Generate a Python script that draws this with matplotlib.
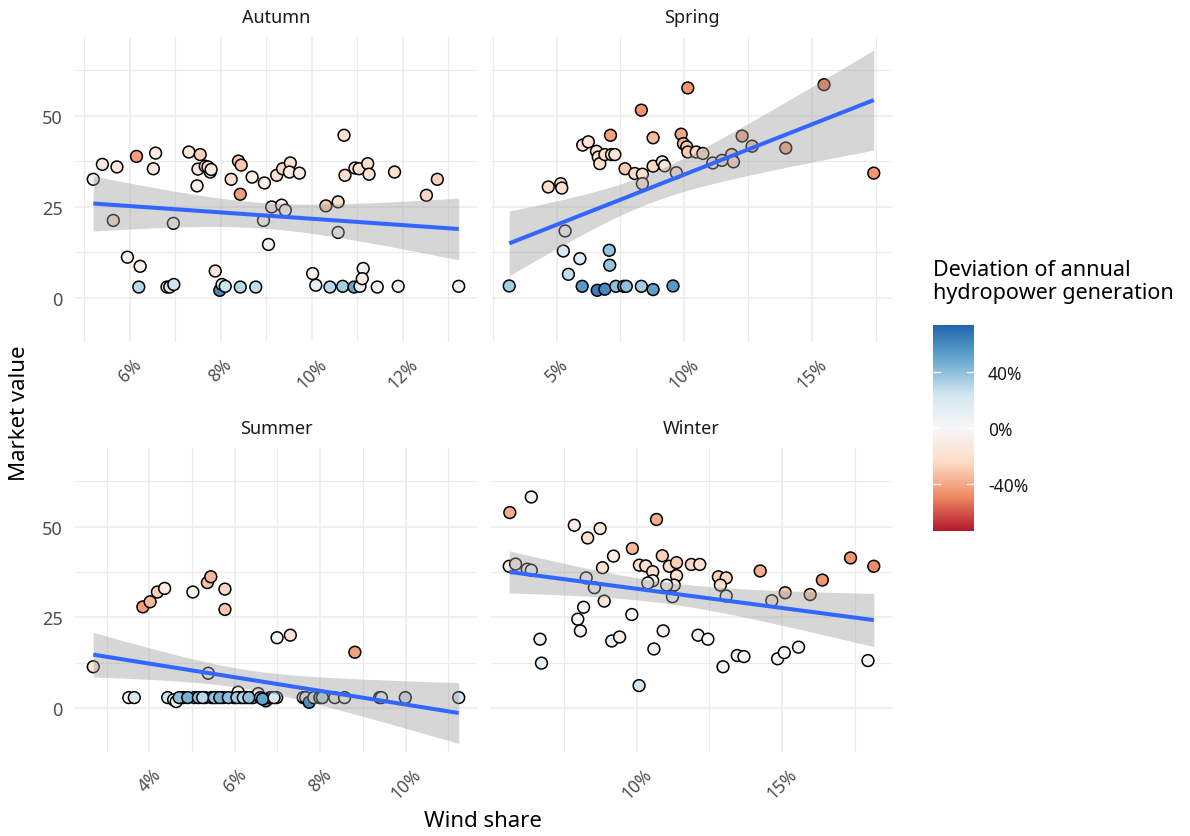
import numpy as np
import matplotlib
matplotlib.use("Agg")
import matplotlib.pyplot as plt
from matplotlib.colors import LinearSegmentedColormap, Normalize
from matplotlib.cm import ScalarMappable
from matplotlib.ticker import FixedLocator, FuncFormatter

plt.rcParams['font.family'] = ['Noto Sans', 'DejaVu Sans']

# ---------------------------------------------------------------- data
# wind share (%), market value, deviation of annual hydropower generation
autumn_wind = [5.20, 5.40, 5.72, 5.64, 6.15, 6.57, 6.52, 5.95, 6.23, 6.20, 6.82, 6.88,
               6.97, 6.96, 7.30, 7.55, 7.50, 7.48, 7.66, 7.77, 7.72, 7.79, 7.88, 7.98,
               8.03, 8.10, 8.39, 8.45, 8.23, 8.43, 8.69, 8.43, 8.77, 8.96, 8.94, 9.05,
               9.12, 9.23, 9.34, 9.42, 9.36, 9.53, 9.51, 9.73, 10.02, 10.09, 10.40, 10.31,
               10.58, 10.58, 10.71, 10.73, 10.68, 10.93, 11.06, 10.95, 11.04, 11.23, 11.26,
               11.13, 11.11, 11.44, 11.82, 11.90, 12.52, 12.76, 13.23]
autumn_value = [32.6, 36.7, 36.0, 21.3, 38.9, 39.8, 35.5, 11.2, 8.7, 3.0, 3.0, 3.0,
                3.7, 20.5, 40.1, 39.4, 35.4, 30.8, 36.2, 34.6, 36.0, 35.3, 7.4, 2.1,
                3.7, 3.2, 37.6, 36.5, 32.6, 28.5, 33.2, 3.0, 3.0, 31.6, 21.3, 14.7,
                25.0, 33.7, 25.5, 24.1, 35.5, 37.1, 34.6, 34.3, 6.7, 3.5, 3.0, 25.3,
                26.4, 18.0, 44.7, 33.7, 3.2, 3.0, 3.2, 35.7, 35.5, 36.9, 34.0,
                8.1, 5.3, 3.0, 34.6, 3.2, 28.2, 32.6, 3.2]
autumn_hydro = [0.05, -0.12, -0.15, -0.20, -0.42, -0.10, -0.12, -0.03, -0.05, 0.30, 0.20, 0.25,
                0.25, 0.00, -0.15, -0.28, -0.15, -0.08, -0.20, -0.15, -0.18, -0.10, -0.15, 0.60,
                0.15, 0.25, -0.30, -0.30, -0.20, -0.42, -0.08, 0.30, 0.28, -0.05, 0.00, 0.05,
                -0.15, -0.20, -0.05, 0.00, -0.25, -0.20, -0.10, -0.10, -0.05, 0.10, 0.30, -0.30,
                -0.20, 0.00, -0.18, -0.22, 0.35, 0.50, 0.10, -0.18, -0.20, -0.20, -0.18,
                0.05, -0.08, 0.02, -0.22, -0.08, -0.25, -0.28, 0.08]

spring_wind = [3.14, 4.67, 5.16, 5.20, 5.33, 5.26, 5.46, 5.91, 6.00, 6.02, 6.24, 6.56,
               6.63, 6.69, 6.89, 7.15, 7.28, 7.11, 7.06, 7.08, 6.59, 6.89, 7.32, 7.63,
               7.73, 7.68, 8.06, 8.36, 8.36, 8.32, 8.78, 8.78, 9.14, 9.23, 8.32, 8.78,
               9.56, 9.69, 10.14, 9.88, 9.97, 10.10, 10.14, 10.47, 10.73, 11.12, 11.48,
               11.86, 11.93, 12.27, 12.66, 13.98, 15.48, 17.43]
spring_value = [3.3, 30.5, 31.4, 30.2, 18.4, 12.9, 6.5, 10.8, 3.2, 42.0, 42.9, 40.3,
                38.7, 36.9, 39.4, 39.4, 39.4, 44.7, 13.1, 9.0, 2.1, 2.4, 3.2, 3.2,
                3.2, 35.5, 34.2, 34.0, 31.4, 51.6, 44.0, 36.2, 37.4, 36.3, 3.2, 2.3,
                3.3, 34.4, 57.7, 45.0, 42.4, 41.5, 40.1, 40.1, 39.7, 37.1, 37.8,
                39.4, 37.4, 44.5, 41.7, 41.2, 58.6, 34.3]
spring_hydro = [0.35, -0.22, -0.22, -0.20, 0.00, 0.20, 0.28, 0.18, 0.55, -0.20, -0.15, -0.18,
                -0.20, -0.22, -0.20, -0.18, -0.15, -0.42, 0.38, 0.38, 0.65, 0.60, 0.40, 0.42,
                0.40, -0.30, -0.22, -0.20, -0.15, -0.45, -0.35, -0.25, -0.12, -0.15, 0.35, 0.52,
                0.55, -0.15, -0.45, -0.40, -0.35, -0.30, -0.30, -0.25, -0.25, -0.15, -0.20,
                -0.25, -0.25, -0.38, -0.30, -0.40, -0.50, -0.45]

summer_wind = [2.69, 3.52, 3.65, 3.85, 4.02, 4.19, 4.36, 5.02, 5.36, 5.44, 5.77, 5.77,
               5.38, 6.99, 7.30, 8.81, 4.43, 4.57, 4.63, 4.79, 5.05, 5.31, 5.46, 5.58,
               5.73, 5.98, 6.08, 6.14, 6.26, 6.39, 6.43, 6.55, 6.73, 6.82, 6.86, 6.98,
               7.60, 7.66, 7.74, 7.85, 7.99, 8.05, 8.34, 8.57, 9.39, 9.43, 9.99, 11.24,
               4.70, 4.90, 5.15, 5.25, 5.52, 5.65, 5.85, 6.05, 6.20,
               6.33, 6.60, 6.65, 6.92]
summer_value = [11.4, 2.9, 2.9, 27.9, 29.3, 32.0, 33.0, 32.0, 34.6, 36.2, 32.8, 27.2,
                9.6, 19.4, 20.1, 15.4, 2.9, 2.3, 1.8, 2.9, 2.9, 2.9, 2.9, 2.9,
                2.9, 2.9, 4.4, 2.9, 2.9, 2.9, 2.9, 4.0, 2.0, 2.9, 2.9, 2.9,
                2.9, 2.9, 1.6, 2.9, 2.9, 2.9, 2.9, 2.9, 2.9, 2.9, 2.9, 2.9,
                2.9, 2.9, 2.9, 2.9, 2.9, 2.9, 2.9, 2.9, 2.9,
                2.9, 2.9, 2.5, 2.9]
summer_hydro = [-0.15, 0.00, 0.20, -0.42, -0.35, -0.28, -0.10, -0.06, -0.32, -0.35, -0.25, -0.30,
                0.00, 0.03, -0.18, -0.42, 0.25, 0.00, 0.10, 0.45, 0.45, 0.10, 0.45, 0.40,
                0.45, 0.45, 0.00, 0.35, 0.20, 0.40, 0.35, 0.00, 0.60, 0.45, 0.35, 0.00,
                0.10, 0.20, 0.60, 0.25, 0.35, 0.30, -0.12, 0.00, 0.05, 0.10, 0.25, 0.20,
                0.40, 0.45, 0.40, 0.30, 0.40, 0.45, 0.40, 0.35, 0.30,
                0.40, 0.45, 0.50, 0.20]

winter_wind = [5.63, 6.37, 5.61, 5.83, 6.23, 6.37, 6.67, 6.72, 7.85, 8.31, 8.74, 8.26,
               8.54, 8.82, 9.20, 8.17, 7.97, 8.06, 8.88, 9.14, 9.41, 9.83, 9.85, 10.08,
               10.09, 10.31, 10.68, 10.55, 10.55, 10.38, 10.88, 11.12, 11.37, 11.37, 11.29,
               11.23, 11.03, 10.91, 10.59, 11.88, 12.17, 12.11, 12.45, 12.81, 13.08, 12.88,
               13.08, 12.97, 13.46, 13.69, 14.25, 14.65, 14.85, 15.08, 15.57, 15.11, 15.97,
               16.39, 17.36, 18.16, 17.96]
winter_value = [53.9, 58.2, 39.1, 39.7, 38.3, 38.0, 19.0, 12.4, 50.4, 46.9, 49.5, 35.9,
                33.2, 38.7, 41.9, 27.8, 24.5, 21.3, 29.5, 18.5, 19.6, 25.8, 44.0, 6.2,
                39.4, 39.2, 52.0, 37.6, 35.1, 34.5, 42.0, 39.1, 40.1, 36.5, 33.9,
                30.7, 33.9, 21.3, 16.3, 39.6, 39.6, 20.1, 19.0, 36.2, 35.9, 33.9,
                30.9, 11.4, 14.5, 14.2, 37.8, 29.6, 13.6, 15.3, 16.8, 31.8, 31.3,
                35.3, 41.4, 39.1, 13.1]
winter_hydro = [-0.38, -0.08, -0.12, -0.05, 0.00, 0.00, 0.10, 0.10, -0.10, -0.20, -0.15, 0.00,
                0.00, -0.18, -0.08, 0.02, -0.02, -0.05, -0.15, 0.10, -0.08, 0.00, -0.35, 0.22,
                -0.22, -0.20, -0.38, -0.20, -0.05, 0.00, -0.28, -0.22, -0.28, -0.20, -0.05,
                0.00, 0.00, -0.05, -0.06, -0.25, -0.20, 0.08, 0.00, -0.28, -0.25, -0.20,
                0.00, 0.06, 0.10, 0.00, -0.38, -0.15, 0.00, 0.00, -0.05, -0.30, -0.30,
                -0.45, -0.45, -0.48, -0.05]

panels = [
    ("Autumn", autumn_wind, autumn_value, autumn_hydro, [6, 8, 10, 12], [5, 7, 9, 11, 13]),
    ("Spring", spring_wind, spring_value, spring_hydro, [5, 10, 15], [2.5, 7.5, 12.5, 17.5]),
    ("Summer", summer_wind, summer_value, summer_hydro, [4, 6, 8, 10], [3, 5, 7, 9, 11]),
    ("Winter", winter_wind, winter_value, winter_hydro, [10, 15], [7.5, 12.5, 17.5]),
]
value_ticks = [0, 25, 50]
value_minor = [12.5, 37.5, 62.5]
legend_ticks = [-0.4, 0.0, 0.4]
hydro_limit = 0.735

# ---------------------------------------------------------------- styling
W, H = 1190, 837
fig = plt.figure(figsize=(W / 100, H / 100), dpi=100)
fig.patch.set_facecolor("white")

rdbu7 = ["#B2182B", "#EF8A62", "#FDDBC7", "#F7F7F7", "#D1E5F0", "#67A9CF", "#2166AC"]
cmap = LinearSegmentedColormap.from_list("rdbu7", rdbu7, N=256)
norm = Normalize(-hydro_limit, hydro_limit)
grid_col = "#EBEBEB"
tick_col = "#4D4D4D"


def rect(x0, y0, x1, y1):
    return [x0 / W, 1 - y1 / H, (x1 - x0) / W, (y1 - y0) / H]


boxes = [(75, 38, 477, 343), (491, 38, 892, 343),
         (75, 449, 477, 753), (491, 449, 892, 753)]


def t_quantile(dof):
    z = 1.959964
    return z + (z ** 3 + z) / (4 * dof) + (5 * z ** 5 + 16 * z ** 3 + 3 * z) / (96 * dof ** 2)


def linear_fit(x, y, n=80):
    x = np.asarray(x, float)
    y = np.asarray(y, float)
    X = np.column_stack([np.ones_like(x), x])
    beta = np.linalg.lstsq(X, y, rcond=None)[0]
    resid = y - X @ beta
    dof = len(x) - 2
    s2 = resid @ resid / dof
    cov = np.linalg.inv(X.T @ X)
    xs = np.linspace(x.min(), x.max(), n)
    Xs = np.column_stack([np.ones_like(xs), xs])
    fit = Xs @ beta
    se = np.sqrt(s2 * np.einsum("ij,jk,ik->i", Xs, cov, Xs))
    t = t_quantile(dof)
    return xs, fit, fit - t * se, fit + t * se


pct = FuncFormatter(lambda v, _: f"{v:g}%")

for i, (name, wind, value, hydro, xmaj, xmin_) in enumerate(panels):
    ax = fig.add_axes(rect(*boxes[i]))
    wind = np.asarray(wind)
    value = np.asarray(value)

    ax.scatter(wind, value, c=hydro, cmap=cmap, norm=norm, s=72,
               edgecolors="black", linewidths=1.1, zorder=3)

    xs, fit, lo, hi = linear_fit(wind, value)
    ax.fill_between(xs, lo, hi, color="#999999", alpha=0.4, linewidth=0, zorder=4)
    ax.plot(xs, fit, color="#3366FF", linewidth=2.9, zorder=5, solid_capstyle="butt")

    span = wind.max() - wind.min()
    ax.set_xlim(wind.min() - 0.05 * span, wind.max() + 0.05 * span)
    ax.set_ylim(-12.1, 71.7)

    ax.xaxis.set_major_locator(FixedLocator(xmaj))
    ax.xaxis.set_minor_locator(FixedLocator(xmin_))
    ax.xaxis.set_major_formatter(pct)
    ax.yaxis.set_major_locator(FixedLocator(value_ticks))
    ax.yaxis.set_minor_locator(FixedLocator(value_minor))

    ax.grid(which="major", color=grid_col, linewidth=1.1, zorder=0)
    ax.grid(which="minor", color=grid_col, linewidth=0.8, zorder=0)
    ax.set_axisbelow(True)
    for sp in ax.spines.values():
        sp.set_visible(False)

    ax.tick_params(which="both", length=0)
    ax.tick_params(axis="x", labelsize=12.5, labelcolor=tick_col, pad=9, labelrotation=45)
    ax.tick_params(axis="y", labelsize=13, labelcolor=tick_col, pad=9)
    if i % 2 == 1:
        ax.tick_params(axis="y", labelleft=False)

    ax.text(0.5, 1 + 20 / 305, name, transform=ax.transAxes, ha="center", va="center",
            fontsize=13, color="#1A1A1A")

fig.text(20 / W, 1 - 413 / H, "Market value", rotation=90, ha="center", va="center",
         fontsize=16, color="black")
fig.text(483 / W, 1 - 822 / H, "Wind share", ha="center", va="center",
         fontsize=16, color="black")

# ---------------------------------------------------------------- legend
fig.text(933 / W, 1 - 260 / H, "Deviation of annual\nhydropower generation",
         ha="left", va="top", fontsize=15.5, color="black", linespacing=1.15)
cax = fig.add_axes(rect(933, 326, 974, 532))
cb = fig.colorbar(ScalarMappable(norm=norm, cmap=cmap), cax=cax, ticks=legend_ticks)
cb.outline.set_visible(False)
cb.ax.tick_params(length=0, pad=10, labelsize=12.5, labelcolor="#1A1A1A")
cb.ax.yaxis.set_major_formatter(FuncFormatter(lambda v, _: f"{v * 100:.0f}%"))
for tv in legend_ticks:
    cax.plot([0, 0.18], [tv, tv], color="white", linewidth=0.9, transform=cax.get_yaxis_transform())
    cax.plot([0.82, 1], [tv, tv], color="white", linewidth=0.9, transform=cax.get_yaxis_transform())

fig.savefig("out.png", dpi=100, facecolor="white")
